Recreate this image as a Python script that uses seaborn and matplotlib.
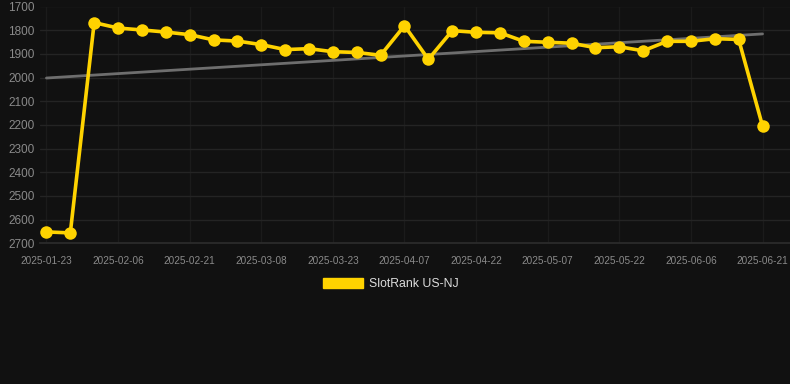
import matplotlib
matplotlib.use("Agg")
import matplotlib.pyplot as plt
from matplotlib.patches import Patch
import numpy as np
import pandas as pd
import seaborn as sns

dates = ["2025-01-23", "2025-01-28", "2025-02-01", "2025-02-06", "2025-02-11",
         "2025-02-16", "2025-02-21", "2025-02-26", "2025-03-03", "2025-03-08",
         "2025-03-13", "2025-03-18", "2025-03-23", "2025-03-28", "2025-04-02",
         "2025-04-07", "2025-04-12", "2025-04-17", "2025-04-22", "2025-04-27",
         "2025-05-02", "2025-05-07", "2025-05-12", "2025-05-17", "2025-05-22",
         "2025-05-27", "2025-06-01", "2025-06-06", "2025-06-11", "2025-06-16",
         "2025-06-21"]
rank = [2652, 2656, 1768, 1791, 1799, 1808, 1819, 1841, 1846, 1861,
        1882, 1878, 1891, 1894, 1906, 1781, 1923, 1802, 1809, 1811,
        1847, 1851, 1855, 1874, 1870, 1887, 1847, 1847, 1836, 1839,
        2205]
y_ticks = [1700, 1800, 1900, 2000, 2100, 2200, 2300, 2400, 2500, 2600, 2700]
series_name = "SlotRank US-NJ"

BG = "#111111"
GOLD = "#FFD300"

sns.set_theme(style="dark")
plt.rcParams["font.family"] = ["Liberation Sans", "DejaVu Sans"]

df = pd.DataFrame({"idx": np.arange(len(dates)), "date": dates, "rank": rank})

fig = plt.figure(figsize=(7.9, 3.84), dpi=100, facecolor=BG)
ax = fig.add_axes([40 / 790, 1 - 243.3 / 384, 750 / 790, (243.3 - 6.5) / 384])
ax.set_facecolor(BG)

# trend line (linear regression)
sns.regplot(data=df, x="idx", y="rank", scatter=False, ci=None, truncate=True,
            ax=ax, line_kws=dict(color="#6e6e6e", lw=2, zorder=2))

sns.lineplot(data=df, x="idx", y="rank", ax=ax, color=GOLD, lw=2.6,
             marker="o", markersize=9, markeredgewidth=0, zorder=3)

ax.set_ylim(2700, 1700)
ax.set_yticks(y_ticks)
ax.set_yticklabels([str(v) for v in y_ticks])
ax.set_xlim(-0.27, 31.15)
tick_idx = list(range(0, len(dates), 3))
ax.set_xticks(tick_idx)
ax.set_xticklabels([dates[i] for i in tick_idx])

ax.grid(False)
ax.yaxis.grid(True, color="#242424", lw=1)
ax.xaxis.grid(True, color="#1b1b1b", lw=1)
for s in ax.spines.values():
    s.set_visible(False)
ax.spines["bottom"].set_visible(True)
ax.spines["bottom"].set_color("#2c2c2c")
ax.tick_params(axis="y", length=0, pad=4, labelsize=8.5, labelcolor="#8a8a8a")
ax.tick_params(axis="x", length=0, pad=9, labelsize=7.2, labelcolor="#8a8a8a")
ax.set_xlabel("")
ax.set_ylabel("")

handle = Patch(facecolor=GOLD, edgecolor=GOLD)
leg = fig.legend(handles=[handle], labels=[series_name], loc="center",
                 bbox_to_anchor=(0.495, 1 - 284 / 384), frameon=False,
                 fontsize=8.8, handlelength=3.3, handleheight=0.95,
                 handletextpad=0.5)
for t in leg.get_texts():
    t.set_color("#dddddd")

fig.savefig("out.png", dpi=100, facecolor=BG)
